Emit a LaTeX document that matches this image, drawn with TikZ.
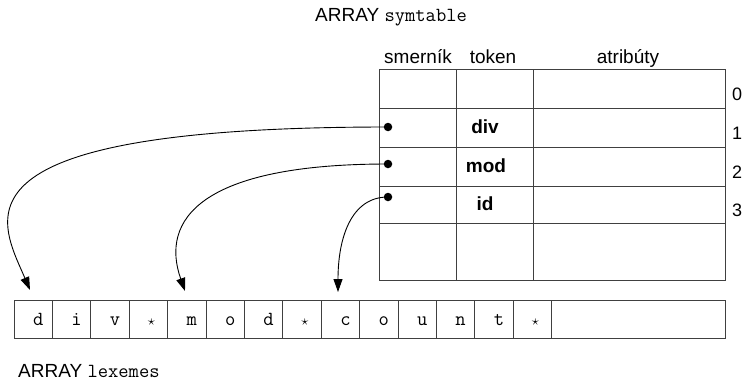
\documentclass[tikz,border=0pt]{standalone}
\usepackage{fontspec}
\setmainfont{Liberation Sans}
\usetikzlibrary{arrows.meta,calc}
\newcommand\lxstar{\hspace*{-4pt}{\fontsize{14}{14}\selectfont$\star$}}
\begin{document}
\begin{tikzpicture}[x=1pt,y=-1pt,
  grid/.style={draw=black!75,line width=1pt,inner sep=0pt,outer sep=0pt,anchor=north west},
  lbl/.style={font=\fontsize{19}{22}\selectfont,inner sep=0pt,anchor=base},
  num/.style={font=\fontsize{18}{20}\selectfont,inner sep=0pt,anchor=base},
  tok/.style={font=\fontsize{19}{22}\selectfont\bfseries,inner sep=0pt},
  ch/.style={font=\fontsize{20}{22}\selectfont\ttfamily,inner sep=0pt,anchor=base},
  ptr/.style={-{Triangle[length=13pt,width=9pt]},line width=0.9pt,black},
  dotp/.style={circle,fill=black,inner sep=0pt,minimum size=8.5pt}]
\useasboundingbox (0,0) rectangle (746,380);
% title
\node[lbl,anchor=base west] (tsym) at (315,21) {ARRAY {\fontsize{20}{22}\selectfont\ttfamily symtable}};
% headers
\node[lbl] (hsm) at (418,63) {smerník};
\node[lbl] (htok) at (493,63) {token};
\node[lbl] (hatr) at (628,63) {atribúty};
% table cells
\foreach \y/\h/\r in {69/39/0,108/39/1,147/39/2,186/37/3,223/57/4}{
  \foreach \x/\w/\c in {379/77/a,456/77/b,533/192/c}{
    \node[grid,minimum width=\w,minimum height=\h] (s\r\c) at (\x,\y) {};
  }
}
% row numbers
\node[num] (n0) at (737,100) {0};
\node[num] (n1) at (737,139) {1};
\node[num] (n2) at (737,178) {2};
\node[num] (n3) at (737,216) {3};
% tokens
\node[tok] (tdiv) at (485,127) {div};
\node[tok] (tmod) at (486,166) {mod};
\node[tok] (tid) at (485,204) {id};
% lexeme array
\foreach \c [count=\i] in {d,i,v,\lxstar,m,o,d,\lxstar,c,o,u,n,t,\lxstar}{
  \node[grid,minimum width=38.4,minimum height=38] (l\i) at ({14+(\i-1)*38.4},300) {};
  \node[ch] (c\i) at ({14+(\i-0.5)*38.4+5},325) {\c};
}
\node[grid,minimum width=173.4,minimum height=38] (l15) at (551.6,300) {};
\node[lbl,anchor=base west] (tlex) at (18,377) {ARRAY {\fontsize{20}{22}\selectfont\ttfamily lexemes}};
% pointers
\node[dotp] (p1) at (388,127) {};
\node[dotp] (p2) at (388,164) {};
\node[dotp] (p3) at (388,197) {};
\coordinate (t1) at (30,290);
\coordinate (t2) at (185,291);
\coordinate (t3) at (338,292);
\draw[ptr] (p1.center) .. controls (-60,127) and (0,220) .. (t1);
\draw[ptr] (p2.center) .. controls (200,164) and (160,220) .. (t2);
\draw[ptr] (p3.center) .. controls (350,197) and (338,240) .. (t3);
\end{tikzpicture}
\end{document}
